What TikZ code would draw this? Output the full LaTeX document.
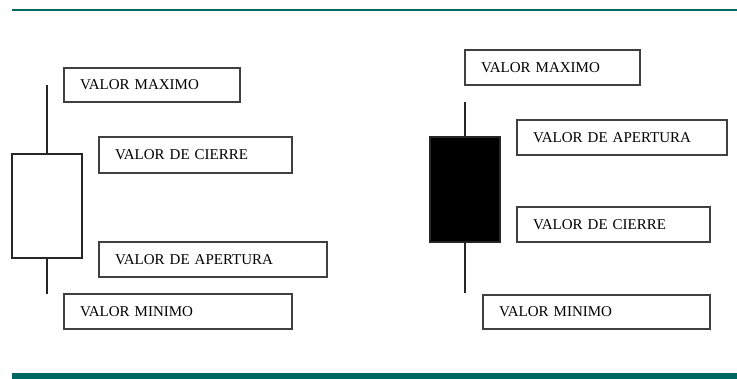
\documentclass[tikz,border=0pt]{standalone}
\usepackage{fontspec}
\setmainfont{Liberation Serif}
\definecolor{barteal}{RGB}{0,104,96}
\begin{document}
\begin{tikzpicture}[x=1pt,y=-1pt,
	valbox/.style={draw=black!75,line width=1.6pt,anchor=north west,
		inner xsep=16pt,inner ysep=0pt,outer sep=0pt,align=left,
		font=\fontsize{15}{18}\selectfont},
	candle/.style={draw=black!85,line width=1.6pt,anchor=north west,inner sep=0pt,
		outer sep=0pt,minimum width=70pt},
	wick/.style={draw=black!85,line width=1.6pt}]
	\useasboundingbox (0,0) rectangle (737,379);
	% bands
	\draw [barteal,line width=2pt] (12,10) -- (737,10);
	\fill [barteal] (12,373) rectangle (737,379);
	
	% left candle (white)
	\node [candle,minimum height=104pt] (lbody) at (12,154) {};
	\coordinate (lhigh) at (lbody.north |- 0,85);
	\coordinate (llow) at (lbody.south |- 0,294);
	\draw [wick] (lhigh) -- (lbody.north);
	\draw [wick] (lbody.south) -- (llow);
	\node [valbox,text width=144pt,minimum height=34pt] (lmax) at (64,68) {VALOR MAXIMO};
	\node [valbox,text width=161pt,minimum height=36pt] (lcierre) at (99,137) {VALOR DE CIERRE};
	\node [valbox,text width=196pt,minimum height=35pt] (lapert) at (99,242) {VALOR DE APERTURA};
	\node [valbox,text width=196pt,minimum height=35pt] (lmin) at (64,294) {VALOR MINIMO};
	
	% right candle (black)
	\node [candle,fill=black,minimum height=105pt] (rbody) at (430,137) {};
	\coordinate (rhigh) at (rbody.north |- 0,102);
	\coordinate (rlow) at (rbody.south |- 0,293);
	\draw [wick] (rhigh) -- (rbody.north);
	\draw [wick] (rbody.south) -- (rlow);
	\node [valbox,text width=143pt,minimum height=35pt] (rmax) at (465,50) {VALOR MAXIMO};
	\node [valbox,text width=178pt,minimum height=35pt] (rapert) at (517,120) {VALOR DE APERTURA};
	\node [valbox,text width=161pt,minimum height=35pt] (rcierre) at (517,207) {VALOR DE CIERRE};
	\node [valbox,text width=195pt,minimum height=34pt] (rmin) at (483,295) {VALOR MINIMO};
\end{tikzpicture}
\end{document}
